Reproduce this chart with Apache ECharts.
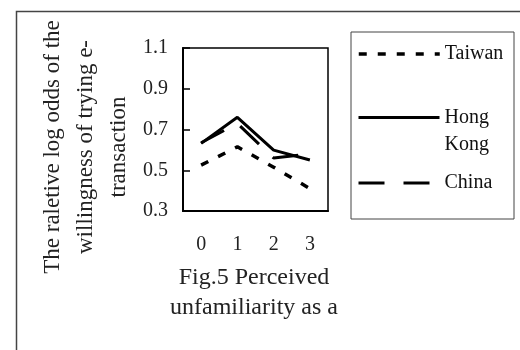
<!DOCTYPE html>
<html>
<head>
<meta charset="utf-8">
<script src="https://cdn.jsdelivr.net/npm/echarts@6/dist/echarts.min.js"></script>
<style>
html,body{margin:0;padding:0;background:#fff;}
#chart{width:520px;height:350px;}
</style>
</head>
<body>
<div id="chart"></div>
<script>
const categories = ['0', '1', '2', '3'];
const taiwan = [0.525, 0.615, 0.515, 0.41];
const hongKong = [0.632, 0.76, 0.599, 0.55];
const china = [0.635, 0.73, 0.56, 0.58];
const seriesNames = ['Taiwan', 'Hong Kong', 'China'];
const yTitle = 'The raletive log odds of the\nwillingness of trying e-\ntransaction';
const xTitle = 'Fig.5 Perceived\nunfamiliarity as a';

const FONT = '"Liberation Serif", "Times New Roman", serif';
const chart = echarts.init(document.getElementById('chart'));
const styles = {
  Taiwan: { color: '#000', width: 3.5, type: [8, 11] },
  'Hong Kong': { color: '#000', width: 3, type: 'solid' },
  China: { color: '#000', width: 3, type: [26, 19] }
};
function legendFor(name, top, extra) {
  return Object.assign({
    data: [name], orient: 'vertical', left: 352, top: top, padding: 5,
    itemWidth: 81, itemHeight: 20, itemGap: 0,
    itemStyle: { opacity: 0 },
    lineStyle: styles[name],
    textStyle: { fontFamily: FONT, fontSize: 20, color: '#111', lineHeight: 20 }
  }, extra || {});
}
chart.setOption({
  backgroundColor: '#fff',
  animation: false,
  grid: { left: 183, right: 192, top: 48, bottom: 139, show: true, borderColor: '#000', borderWidth: 1.5, backgroundColor: 'transparent' },
  xAxis: {
    type: 'category', data: categories, boundaryGap: true,
    axisLine: { lineStyle: { color: '#000', width: 2 } },
    axisTick: { inside: true, length: 5, lineStyle: { color: '#000', width: 1.5 } },
    axisLabel: { color: '#222', fontFamily: FONT, fontSize: 20, margin: 24 }
  },
  yAxis: {
    type: 'value', min: 0.3, max: 1.1, interval: 0.2,
    axisLine: { show: true, lineStyle: { color: '#000', width: 2 } },
    axisTick: { show: true, inside: true, length: 7, lineStyle: { color: '#000', width: 1.5 } },
    splitLine: { show: false },
    axisLabel: { color: '#222', fontFamily: FONT, fontSize: 20, margin: 15, formatter: v => v.toFixed(1) }
  },
  legend: [
    legendFor(seriesNames[0], 39),
    legendFor(seriesNames[1], 72, {
      formatter: () => ' \nHong\nKong',
      textStyle: { fontFamily: FONT, fontSize: 20, color: '#111', lineHeight: 27 }
    }),
    legendFor(seriesNames[2], 168)
  ],
  graphic: [
    { type: 'rect', left: 14, top: 9, shape: { width: 620, height: 420 }, style: { fill: 'none', stroke: '#444', lineWidth: 1.5 }, z: -10 },
    { type: 'rect', shape: { x: 351, y: 32, width: 163, height: 187 }, style: { fill: 'none', stroke: '#444', lineWidth: 1 }, z: -5 },
    { type: 'text', x: 86, y: 147, rotation: Math.PI / 2,
      style: { text: yTitle, fontFamily: FONT, fontSize: 23, lineHeight: 33, fill: '#222', align: 'center', verticalAlign: 'middle' } },
    { type: 'text', x: 254, y: 293,
      style: { text: xTitle, fontFamily: FONT, fontSize: 24, lineHeight: 30, fill: '#222', align: 'center', verticalAlign: 'middle' } }
  ],
  series: [
    { name: seriesNames[0], type: 'line', data: taiwan, symbol: 'none', lineStyle: styles.Taiwan },
    { name: seriesNames[1], type: 'line', data: hongKong, symbol: 'none', lineStyle: styles['Hong Kong'] },
    { name: seriesNames[2], type: 'line', data: china, symbol: 'none', lineStyle: styles.China }
  ]
});
</script>
</body>
</html>
